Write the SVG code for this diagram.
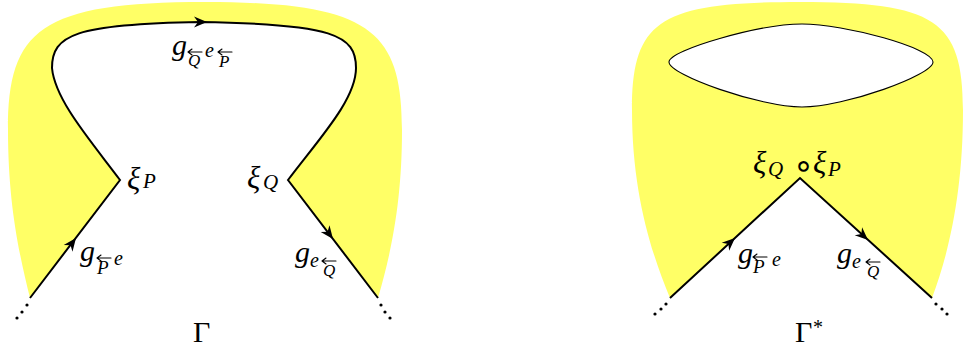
<svg xmlns="http://www.w3.org/2000/svg" width="965" height="349" viewBox="0 0 965 349">
<style>
.fill{fill:#ffff66;stroke:none}
.ln{fill:none;stroke:#000;stroke-width:2;stroke-linejoin:miter}
.thin{fill:#fff;stroke:#000;stroke-width:1.1}
.m{font-family:"Liberation Serif","Times New Roman",serif;font-style:italic;fill:#000}
.up{font-family:"Liberation Serif","Times New Roman",serif;font-style:normal}
.ar{font-family:"DejaVu Sans",sans-serif;font-style:normal}
.acc{fill:none;stroke:#000;stroke-width:1.1;stroke-linecap:round}
</style>
<defs>
<path id="ah" d="M0,0 L-13,-5.5 L-9,0 L-13,5.5 Z" fill="#000"/>
<path id="oa" class="acc" d="M0,0 H14 M0,0 L4,-3 M0,0 L4,3"/>
</defs>
<g id="gamma">
<path class="fill" d="M30,298 L120,180 C90,140 55,100 52,68 C52,35 75,24 200,22 C333,24 356,35 356,68 C356,100 318,140 288,180 L378,298 C392,250 402,200 402,130 C402,30 370,2 205,2 C40,2 8,30 8,130 C8,200 18,250 30,298 Z"/>
</g>
<g id="gammastar">
<path class="fill" d="M670,298 L800,178 L932,298 C950,250 963,190 963,110 C963,20 935,2 800,2 C660,2 632,20 632,110 C632,190 650,250 670,298 Z"/>
<path class="thin" d="M669,62 C669,50 760,24 802,24 C845,24 933,48 933,62 C933,75 845,107 802,107 C760,107 669,75 669,62 Z"/>
</g>
<g id="connectors">
<path class="ln" d="M30,298 L120,180 C90,140 55,100 52,68 C52,35 75,24 200,22 C333,24 356,35 356,68 C356,100 318,140 288,180 L378,298"/>
<path class="ln" d="M670,298 L800,178 L932,298"/>
<use href="#ah" transform="translate(76,238) rotate(-52.7)"/>
<use href="#ah" transform="translate(207,22) rotate(0)"/>
<use href="#ah" transform="translate(333,239) rotate(52.7)"/>
<use href="#ah" transform="translate(735,238) rotate(-42.7)"/>
<use href="#ah" transform="translate(868,240) rotate(42.3)"/>
<g fill="#000">
<circle cx="27" cy="305" r="1.6"/><circle cx="22" cy="312" r="1.6"/><circle cx="17" cy="318" r="1.6"/>
<circle cx="381" cy="305" r="1.6"/><circle cx="385" cy="312" r="1.6"/><circle cx="390" cy="318" r="1.6"/>
<circle cx="666" cy="304" r="1.6"/><circle cx="661" cy="309" r="1.6"/><circle cx="655" cy="314" r="1.6"/>
<circle cx="936" cy="304" r="1.6"/><circle cx="942" cy="309" r="1.6"/><circle cx="947" cy="314" r="1.6"/>
</g>
</g>
<g id="accents">
<use href="#oa" x="97" y="258"/>
<use href="#oa" x="188" y="52"/>
<use href="#oa" x="218" y="52"/>
<use href="#oa" x="322" y="261"/>
<use href="#oa" x="753" y="257"/>
<use href="#oa" x="866" y="262"/>
</g>
<g id="labels">
<text class="m"><tspan x="127" y="189" font-size="31">ξ</tspan><tspan x="143" y="188" font-size="21">P</tspan></text>
<text class="m"><tspan x="247" y="188" font-size="31">ξ</tspan><tspan x="263" y="189" font-size="21">Q</tspan></text>
<text class="m"><tspan x="80" y="261" font-size="30">g</tspan><tspan x="97" y="274" font-size="19">P</tspan><tspan x="114" y="265" font-size="20">e</tspan></text>
<text class="m"><tspan x="172" y="55" font-size="30">g</tspan><tspan x="188" y="66" font-size="17">Q</tspan><tspan x="205" y="57" font-size="20">e</tspan><tspan x="219" y="67" font-size="17">P</tspan></text>
<text class="m"><tspan x="295" y="262" font-size="30">g</tspan><tspan x="310" y="267" font-size="20">e</tspan><tspan x="323" y="276" font-size="17">Q</tspan></text>
<text class="up" x="193" y="342" font-size="30">Γ</text>
<text class="m"><tspan x="753" y="173" font-size="31">ξ</tspan><tspan x="768" y="176" font-size="21">Q</tspan><tspan class="ar" x="793" y="177" font-size="34">∘</tspan><tspan x="813" y="173" font-size="31">ξ</tspan><tspan x="828" y="176" font-size="21">P</tspan></text>
<text class="m"><tspan x="738" y="263" font-size="30">g</tspan><tspan x="753" y="273" font-size="19">P</tspan><tspan x="772" y="266" font-size="20">e</tspan></text>
<text class="m"><tspan x="837" y="263" font-size="30">g</tspan><tspan x="852" y="268" font-size="20">e</tspan><tspan x="867" y="277" font-size="17">Q</tspan></text>
<text class="up"><tspan x="795" y="342" font-size="30">Γ</tspan><tspan x="813" y="334" font-size="20">*</tspan></text>
</g>
</svg>
